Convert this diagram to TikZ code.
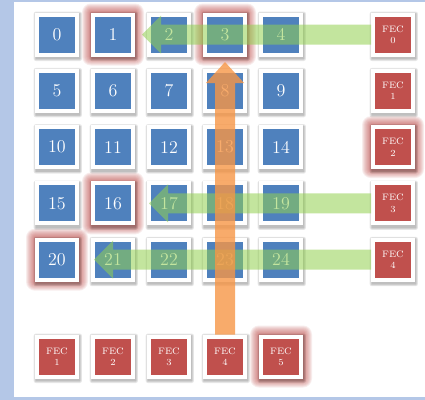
\documentclass[tikz,border=0pt]{standalone}
\usetikzlibrary{backgrounds,calc}
\definecolor{cellblue}{RGB}{79,129,189}
\definecolor{fecred}{RGB}{192,80,77}
\definecolor{bgblue}{RGB}{180,199,231}
\definecolor{arrgreen}{RGB}{146,208,80}
\definecolor{arrorange}{RGB}{247,150,70}
\newcommand\myharrow[3]{\fill[#3] let \p1=(#1), \p2=(#2) in
  (\x1,\y1+7.5pt) -- (\x2+14.25pt,\y1+7.5pt) -- (\x2+14.25pt,\y1+14.25pt) -- (\x2,\y1)
  -- (\x2+14.25pt,\y1-14.25pt) -- (\x2+14.25pt,\y1-7.5pt) -- (\x1,\y1-7.5pt) -- cycle;}
\newcommand\myvarrow[3]{\fill[#3] let \p1=(#1), \p2=(#2) in
  (\x1-7.5pt,\y1) -- (\x1-7.5pt,\y2-15.75pt) -- (\x1-14.25pt,\y2-15.75pt) -- (\x1,\y2)
  -- (\x1+14.25pt,\y2-15.75pt) -- (\x1+7.5pt,\y2-15.75pt) -- (\x1+7.5pt,\y1) -- cycle;}
\newcommand\myglow[1]{\foreach \d in {1,...,9}{
  \fill[fecred,opacity=0.1,rounded corners=\d*0.75pt]
    ($(#1.south west)+(-\d,\d)$) rectangle ($(#1.north east)+(\d,-\d)$);}}
\newcommand\myshade[1]{\foreach \d in {0.3,1.2,2.1}{
  \fill[black,opacity=0.09,rounded corners=\d*0.75pt]
    ($(#1.south west)+(0.8-\d,2.4+\d)$) rectangle ($(#1.north east)+(0.8+\d,1.2-\d)$);}}
\tikzset{
  cellbase/.style={rectangle,draw=white,line width=3pt,minimum size=30pt,inner sep=0pt,
    text=white},
  cell/.style={cellbase,fill=cellblue,font=\fontsize{13.5}{15}\selectfont},
  fec/.style={cellbase,fill=fecred,font=\fontsize{7}{8.5}\selectfont,align=center},
  garrow/.style={arrgreen,opacity=0.55},
  oarrow/.style={arrorange,opacity=0.8}
}
\begin{document}
\begin{tikzpicture}[x=0.75pt,y=-0.75pt]
\useasboundingbox (0,0) rectangle (425,400);
\begin{scope}[on background layer]
\fill[bgblue] (0,0) rectangle (425,400);
\fill[white] (14,1.5) rectangle (425,397);
\end{scope}
% grid cells
\foreach \i in {0,...,24}{
  \pgfmathtruncatemacro\c{mod(\i,5)}
  \pgfmathtruncatemacro\r{div(\i,5)}
  \node[cell] (n\i) at ({57+56*\c},{34.5+56.3*\r}) {\i};
}
% right FEC column
\foreach \k in {0,...,4}{
  \node[fec] (fr\k) at (393,{34.5+56.3*\k}) {FEC\\\k};
}
% bottom FEC row
\foreach \k in {1,...,5}{
  \node[fec] (fb\k) at ({57+56*(\k-1)},356.5) {FEC\\\k};
}
% glows and shadows
\begin{scope}[on background layer]
\myglow{n1}\myglow{n3}\myglow{n16}\myglow{n20}\myglow{fr2}\myglow{fb5}
\foreach \i in {0,...,24}{\myshade{n\i}}
\foreach \k in {0,...,4}{\myshade{fr\k}}
\foreach \k in {1,...,5}{\myshade{fb\k}}
\end{scope}
% arrows
\coordinate (t0) at (142,34.5);
\coordinate (t3) at (149,203.4);
\coordinate (t4) at (94,259.7);
\coordinate (tv) at (225,62);
\myharrow{fr0.west}{t0}{garrow}
\myharrow{fr3.west}{t3}{garrow}
\myharrow{fr4.west}{t4}{garrow}
\myvarrow{fb4.north}{tv}{oarrow}
\end{tikzpicture}
\end{document}
